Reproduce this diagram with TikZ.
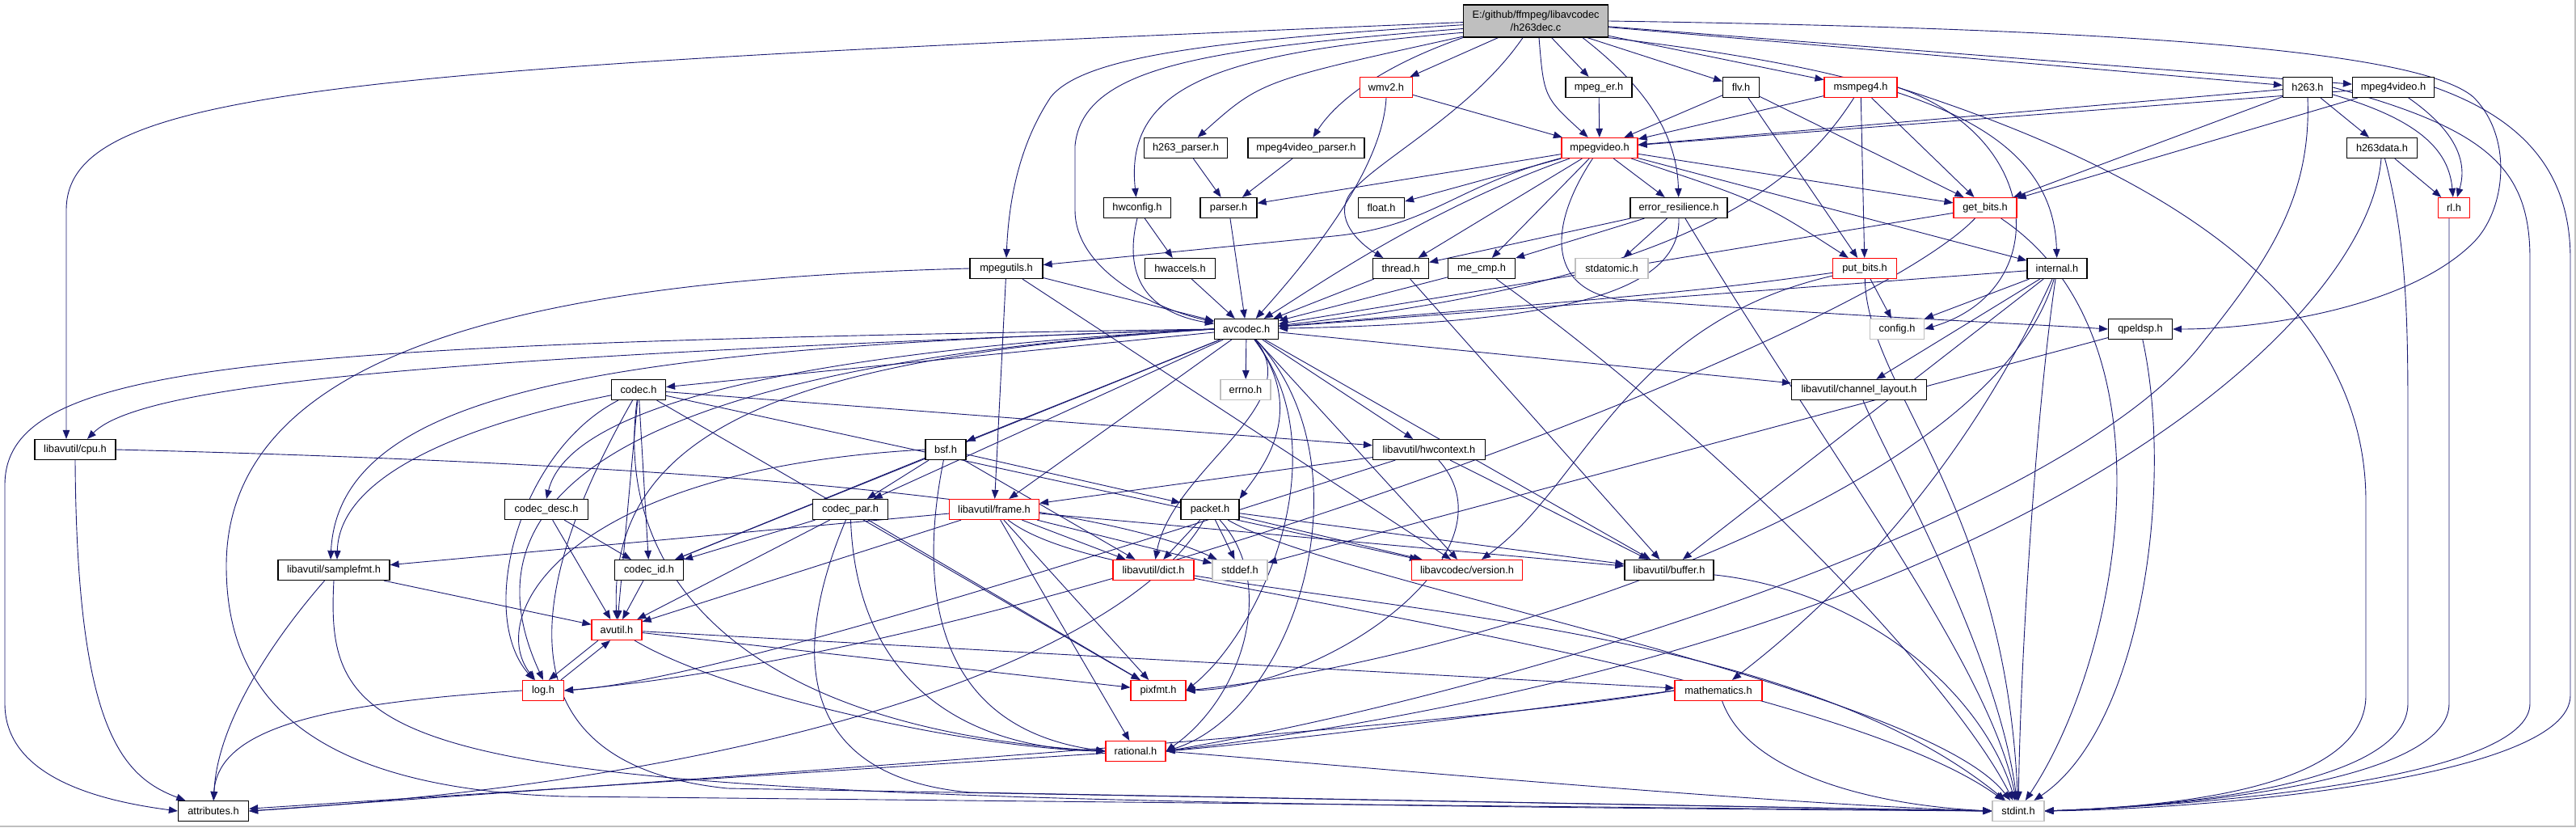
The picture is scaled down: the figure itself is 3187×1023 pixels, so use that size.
\documentclass[tikz,border=0pt]{standalone}
\usepackage{fontspec}
\setmainfont{Liberation Sans}
\usetikzlibrary{arrows.meta}
\definecolor{edgec}{HTML}{191970}
\definecolor{sysgray}{HTML}{BFBFBF}
\pgfdeclarelayer{bg}
\pgfsetlayers{bg,main}
\newcommand\dfont{\fontsize{12.8}{15.5}\selectfont}
\begin{document}
\begin{tikzpicture}[x=1pt,y=-1pt,
  box/.style={draw=black,line width=1.2pt,fill=white,minimum height=25pt,inner sep=0pt,font=\dfont},
  rbox/.style={box,draw=red},
  gbox/.style={box,draw=sysgray},
  lnk/.style={draw=edgec,line width=0.9pt,-{Triangle[length=11pt,width=8.5pt]}}]
\useasboundingbox (0,0) rectangle (3187,1023);

\node[box,fill=sysgray,minimum width=179pt,minimum height=40pt,align=center] (root) at (1900,26) {E:/github/ffmpeg/libavcodec\\/h263dec.c};
\node[rbox,minimum width=65pt] (wmv2) at (1715,108) {wmv2.h};
\node[box,minimum width=82pt] (mpeger) at (1978,108) {mpeg\_er.h};
\node[box,minimum width=45pt] (flv) at (2154,108) {flv.h};
\node[rbox,minimum width=90pt] (msmpeg4) at (2302,108) {msmpeg4.h};
\node[box,minimum width=61pt] (h263) at (2855,108) {h263.h};
\node[box,minimum width=101pt] (mpeg4video) at (2961,108) {mpeg4video.h};
\node[box,minimum width=103pt] (h263parser) at (1467,183) {h263\_parser.h};
\node[box,minimum width=144pt] (m4vparser) at (1616,183) {mpeg4video\_parser.h};
\node[rbox,minimum width=94pt] (mpegvideo) at (1979,183) {mpegvideo.h};
\node[box,minimum width=87pt] (h263data) at (2947,183) {h263data.h};
\node[box,minimum width=83pt] (hwconfig) at (1407,257) {hwconfig.h};
\node[box,minimum width=70pt] (parser) at (1520,257) {parser.h};
\node[box,minimum width=57pt] (float) at (1709,257) {float.h};
\node[box,minimum width=120pt] (errres) at (2077,257) {error\_resilience.h};
\node[rbox,minimum width=78pt] (getbits) at (2456,257) {get\_bits.h};
\node[rbox,minimum width=39pt] (rl) at (3036,257) {rl.h};
\node[box,minimum width=90pt] (mpegutils) at (1245,332) {mpegutils.h};
\node[box,minimum width=87pt] (hwaccels) at (1460,332) {hwaccels.h};
\node[box,minimum width=69pt] (thread) at (1733,332) {thread.h};
\node[box,minimum width=83pt] (mecmp) at (1833,332) {me\_cmp.h};
\node[gbox,minimum width=90pt] (stdatomic) at (1994,332) {stdatomic.h};
\node[rbox,minimum width=79pt] (putbits) at (2307,332) {put\_bits.h};
\node[box,minimum width=74pt] (internal) at (2545,332) {internal.h};
\node[box,minimum width=79pt] (avcodec) at (1542,407) {avcodec.h};
\node[gbox,minimum width=67pt] (config) at (2347,407) {config.h};
\node[box,minimum width=79pt] (qpeldsp) at (2648,407) {qpeldsp.h};
\node[box,minimum width=67pt] (codec) at (790,482) {codec.h};
\node[gbox,minimum width=62pt] (errno) at (1541,482) {errno.h};
\node[box,minimum width=167pt] (chlayout) at (2300,482) {libavutil/channel\_layout.h};
\node[box,minimum width=100pt] (cpu) at (93,556) {libavutil/cpu.h};
\node[box,minimum width=50pt] (bsf) at (1170,556) {bsf.h};
\node[box,minimum width=139pt] (hwcontext) at (1768,556) {libavutil/hwcontext.h};
\node[box,minimum width=103pt] (codecdesc) at (676,630) {codec\_desc.h};
\node[box,minimum width=93pt] (codecpar) at (1052,630) {codec\_par.h};
\node[rbox,minimum width=111pt] (frame) at (1230,630) {libavutil/frame.h};
\node[box,minimum width=72pt] (packet) at (1497,630) {packet.h};
\node[box,minimum width=138pt] (samplefmt) at (413,705) {libavutil/samplefmt.h};
\node[box,minimum width=85pt] (codecid) at (803,705) {codec\_id.h};
\node[rbox,minimum width=100pt] (dict) at (1427,705) {libavutil/dict.h};
\node[gbox,minimum width=68pt] (stddef) at (1534,705) {stddef.h};
\node[rbox,minimum width=137pt] (version) at (1815,705) {libavcodec/version.h};
\node[box,minimum width=110pt] (buffer) at (2065,705) {libavutil/buffer.h};
\node[rbox,minimum width=62pt] (avutil) at (763,779) {avutil.h};
\node[rbox,minimum width=51pt] (log) at (672,854) {log.h};
\node[rbox,minimum width=68pt] (pixfmt) at (1433,854) {pixfmt.h};
\node[rbox,minimum width=108pt] (mathematics) at (2126,854) {mathematics.h};
\node[rbox,minimum width=74pt] (rational) at (1405,929) {rational.h};
\node[box,minimum width=87pt] (attributes) at (264,1003) {attributes.h};
\node[gbox,minimum width=64pt] (stdint) at (2497,1003) {stdint.h};

\coordinate (rlv) at (3030,870);
\coordinate (h263v) at (3130,870);
\coordinate (m4vv) at (3180,860);
\coordinate (h263dv) at (2979,870);
\coordinate (msv) at (2927,860);

\begin{pgfonlayer}{bg}
\fill[white] (0,0) rectangle (3187,1023);
\draw[sysgray,line width=2pt] (0,1022) -- (3186,1022) -- (3186,0);
% root
\draw[lnk] (root.181) .. controls (420,85) and (82,110) .. (82,260) -- ([xshift=-11pt]cpu.north);
\draw[lnk] (root.183) .. controls (1500,50) and (1340,70) .. (1300,120) .. controls (1260,180) and (1248,250) .. (mpegutils.north);
\draw[lnk] (root.186) .. controls (1500,60) and (1340,80) .. (1330,180) -- (1330,260) .. controls (1330,330) and (1420,380) .. (avcodec);
\draw[lnk] (root.189) .. controls (1520,65) and (1390,100) .. (hwconfig);
\draw[lnk] (root.192) .. controls (1560,100) .. (h263parser);
\draw[lnk] (root.south west) .. controls (1700,85) and (1650,130) .. (m4vparser);
\draw[lnk] (root) -- (wmv2);
\draw[lnk] ([xshift=-16pt]root.south) .. controls (1820,140) and (1700,200) .. (1670,240) .. controls (1650,270) and (1680,300) .. (thread);
\draw[lnk] ([xshift=4pt]root.south) .. controls (1910,120) .. (mpegvideo);
\draw[lnk] (root) -- (mpeger);
\draw[lnk] ([xshift=58pt]root.south) .. controls (2040,110) and (2075,170) .. (errres);
\draw[lnk] (root) -- (flv);
\draw[lnk] (root) -- (msmpeg4);
\draw[lnk] (root.south east) .. controls (2350,90) and (2540,150) .. (internal);
\draw[lnk] (root) -- (h263);
\draw[lnk] (root) -- (mpeg4video);
\draw[lnk] (root.east) .. controls (2600,35) and (2990,60) .. (3060,120) .. controls (3110,170) and (3100,260) .. (3060,300) .. controls (2980,380) and (2800,407) .. (qpeldsp.east);
% wmv2, mpeg_er, flv, msmpeg4
\draw[lnk] (wmv2) -- (mpegvideo);
\draw[lnk] (wmv2.south) .. controls (1710,210) and (1620,320) .. (avcodec);
\draw[lnk] (mpeger) -- (mpegvideo);
\draw[lnk] (flv) -- (mpegvideo);
\draw[lnk] (flv) -- (getbits);
\draw[lnk] (flv) -- (putbits);
\draw[lnk] (msmpeg4) -- (mpegvideo);
\draw[lnk] (msmpeg4) -- (putbits);
\draw[lnk] (msmpeg4) -- (getbits);
\draw[lnk] (msmpeg4) .. controls (2230,220) and (2100,345) .. (avcodec);
\draw[lnk] (msmpeg4.east) .. controls (2530,170) and (2540,360) .. (config.east);
\draw[lnk] (msmpeg4.east) .. controls (2700,220) and (2927,380) .. (2927,620) -- (msv) .. controls (2927,960) and (2750,995) .. (stdint.east);
% h263, mpeg4video, h263data
\draw[lnk] (h263) -- (mpegvideo);
\draw[lnk] (h263) -- (getbits);
\draw[lnk] (h263) -- (h263data);
\draw[lnk] (h263) .. controls (3000,150) and (3030,190) .. (rl);
\draw[lnk] (h263.south) .. controls (2860,250) and (2800,330) .. (2720,430) .. controls (2550,640) and (1900,850) .. (rational.east);
\draw[lnk] (h263.east) .. controls (3080,160) and (3130,210) .. (3130,320) -- (h263v) .. controls (3130,960) and (2750,995) .. (stdint.east);
\draw[lnk] (mpeg4video) -- (mpegvideo);
\draw[lnk] (mpeg4video) -- (getbits);
\draw[lnk] (mpeg4video) .. controls (3050,170) and (3050,210) .. (rl);
\draw[lnk] (mpeg4video.east) .. controls (3130,150) and (3180,220) .. (3180,320) -- (m4vv) .. controls (3180,960) and (2750,1000) .. (stdint.east);
\draw[lnk] (h263data) -- (rl);
\draw[lnk] (h263data) .. controls (2978,300) and (2979,400) .. (2979,520) -- (h263dv) .. controls (2979,960) and (2750,995) .. (stdint.east);
\draw[lnk] (h263data) .. controls (2930,400) and (2500,800) .. (rational.east);
\draw[lnk] (rl.south -| rlv) -- (rlv) .. controls (3030,960) and (2750,995) .. (stdint.east);
% parsers
\draw[lnk] (h263parser) -- (parser);
\draw[lnk] (m4vparser) -- (parser);
% mpegvideo
\draw[lnk] (mpegvideo) -- (parser);
\draw[lnk] (mpegvideo) .. controls (1800,230) and (1770,280) .. (1650,292) -- (mpegutils);
\draw[lnk] (mpegvideo) -- (float);
\draw[lnk] (mpegvideo) -- (errres);
\draw[lnk] (mpegvideo) -- (thread);
\draw[lnk] (mpegvideo) -- (mecmp);
\draw[lnk] (mpegvideo) .. controls (1760,260) and (1620,360) .. (avcodec);
\draw[lnk] (mpegvideo) .. controls (1915,280) and (1915,355) .. (2000,370) .. controls (2300,392) and (2500,400) .. (qpeldsp.west);
\draw[lnk] (mpegvideo) .. controls (2180,250) .. (putbits);
\draw[lnk] (mpegvideo) -- (getbits);
\draw[lnk] (mpegvideo) -- (internal);
% error_resilience
\draw[lnk] (errres) -- (thread);
\draw[lnk] (errres) -- (mecmp);
\draw[lnk] (errres) -- (stdatomic);
\draw[lnk] (errres.south) .. controls (2080,370) and (1900,400) .. (avcodec);
\draw[lnk] (errres) .. controls (2260,560) and (2460,820) .. (stdint);
% thread, me_cmp
\draw[lnk] (thread) -- (avcodec);
\draw[lnk] (thread) -- (buffer);
\draw[lnk] (mecmp) -- (avcodec);
\draw[lnk] (mecmp) .. controls (2150,560) and (2420,850) .. (stdint);
% put_bits
\draw[lnk] (putbits) -- (config);
\draw[lnk] (putbits) .. controls (2100,360) .. (avcodec);
\draw[lnk] (putbits) .. controls (2010,400) and (1960,600) .. (version);
\draw[lnk] (putbits) .. controls (2310,480) and (2480,620) .. (stdint);
% get_bits
\draw[lnk] (getbits) -- (avcodec);
\draw[lnk] (getbits) .. controls (2300,420) and (1300,800) .. (log.east);
\draw[lnk] (getbits) .. controls (2700,420) and (2620,820) .. (stdint);
% internal
\draw[lnk] (internal) -- (avcodec);
\draw[lnk] (internal) -- (chlayout);
\draw[lnk] (internal) -- (buffer);
\draw[lnk] (internal) .. controls (2440,560) and (2300,720) .. (mathematics);
\draw[lnk] (internal) .. controls (2460,620) and (1800,820) .. (pixfmt.east);
\draw[lnk] (internal) -- (config);
\draw[lnk] (internal) .. controls (2520,500) and (2500,800) .. (stdint);
% qpeldsp
\draw[lnk] (qpeldsp) -- (stddef);
\draw[lnk] (qpeldsp) .. controls (2690,600) and (2650,900) .. (stdint);
% hwconfig etc
\draw[lnk] (hwconfig) -- (hwaccels);
\draw[lnk] (hwconfig.south) .. controls (1385,360) and (1440,390) .. (avcodec);
\draw[lnk] (hwaccels) -- (avcodec);
\draw[lnk] (parser) -- (avcodec);
\draw[lnk] (mpegutils) -- (avcodec);
\draw[lnk] (mpegutils) -- (frame);
\draw[lnk] (mpegutils) -- (version);
\draw[lnk] (mpegutils.west) .. controls (700,345) and (280,420) .. (280,700) .. controls (280,860) and (380,975) .. (700,985) -- (stdint.west);
% avcodec
\draw[lnk] (avcodec) -- (errno);
\draw[lnk] (avcodec.west) .. controls (600,440) and (180,470) .. ([xshift=15pt]cpu.north);
\draw[lnk] (avcodec.west) .. controls (300,425) and (6,450) .. (6,600) -- (6,870) .. controls (6,960) and (120,990) .. (attributes.west);
\draw[lnk] (avcodec) -- (codec);
\draw[lnk] (avcodec.west) .. controls (800,430) and (420,470) .. ([xshift=-4pt]samplefmt.north);
\draw[lnk] (avcodec.west) .. controls (1000,440) and (752,520) .. (avutil.north);
\draw[lnk] (avcodec) -- (buffer);
\draw[lnk] (avcodec) -- (chlayout);
\draw[lnk] (avcodec) .. controls (1620,500) and (1450,580) .. (dict);
\draw[lnk] (avcodec) -- (frame);
\draw[lnk] (avcodec) -- (hwcontext);
\draw[lnk] (avcodec.west) .. controls (800,450) and (560,600) .. (log.north);
\draw[lnk] (avcodec) .. controls (1660,560) and (1560,780) .. (pixfmt.east);
\draw[lnk] (avcodec) .. controls (1700,580) and (1600,880) .. (rational.east);
\draw[lnk] (avcodec) -- (bsf);
\draw[lnk] (avcodec.west) .. controls (900,440) and (700,520) .. (codecdesc.north);
\draw[lnk] (avcodec) -- (codecpar);
\draw[lnk] (avcodec) -- (codecid);
\draw[lnk] (avcodec) .. controls (1620,510) and (1560,580) .. (packet.north east);
\draw[lnk] (avcodec) -- (version);
% codec
\draw[lnk] (codec) -- (hwcontext);
\draw[lnk] (codec) .. controls (600,520) and (420,580) .. ([xshift=4pt]samplefmt.north);
\draw[lnk] (codec) -- (avutil);
\draw[lnk] (codec) .. controls (640,560) and (590,760) .. (log);
\draw[lnk] (codec) -- (codecid);
\draw[lnk] (codec) -- (pixfmt);
\draw[lnk] (codec) .. controls (760,700) and (900,900) .. (rational.west);
\draw[lnk] (codec) -- (version);
\draw[lnk] (codec) .. controls (700,640) and (560,940) .. (900,975) -- (stdint.west);
% bsf
\draw[lnk] (bsf) -- (codecpar);
\draw[lnk] (bsf) -- (codecid);
\draw[lnk] (bsf) -- (dict);
\draw[lnk] (bsf) -- (packet);
\draw[lnk] (bsf.west) .. controls (700,580) and (600,760) .. (log);
\draw[lnk] (bsf) .. controls (1137,720) and (1150,900) .. (rational.west);
% codec_desc, codec_par
\draw[lnk] (codecdesc) -- (avutil);
\draw[lnk] (codecdesc) -- (codecid);
\draw[lnk] (codecpar) -- (codecid);
\draw[lnk] (codecpar) -- (avutil);
\draw[lnk] (codecpar) -- (pixfmt);
\draw[lnk] (codecpar) .. controls (1060,850) and (1200,925) .. (rational.west);
\draw[lnk] (codecpar) .. controls (980,800) and (980,960) .. (1200,980) -- (stdint.west);
% frame
\draw[lnk] (frame) -- (samplefmt);
\draw[lnk] (frame) -- (avutil);
\draw[lnk] (frame) -- (rational);
\draw[lnk] (frame) -- (pixfmt);
\draw[lnk] (frame) -- (dict);
\draw[lnk] (frame) -- (stddef);
\draw[lnk] (frame) -- (buffer);
\draw[lnk] (frame) .. controls (1400,760) and (2150,720) .. (stdint);
% packet
\draw[lnk] (packet) -- (dict);
\draw[lnk] (packet) -- (stddef);
\draw[lnk] (packet) -- (version);
\draw[lnk] (packet) -- (buffer);
\draw[lnk] (packet) .. controls (1580,720) and (1540,860) .. (rational.east);
\draw[lnk] (packet) .. controls (1400,800) and (1000,960) .. (attributes.east);
\draw[lnk] (packet) .. controls (1650,720) and (2380,850) .. (stdint);
% samplefmt, codec_id, dict, buffer
\draw[lnk] (samplefmt) .. controls (330,800) and (268,900) .. (attributes);
\draw[lnk] (samplefmt) -- (avutil);
\draw[lnk] (samplefmt.south) .. controls (400,960) and (500,990) .. (stdint.west);
\draw[lnk] (codecid) -- (avutil);
\draw[lnk] (dict) .. controls (1700,760) and (2300,860) .. (stdint);
\draw[lnk] (buffer) .. controls (2300,730) and (2450,850) .. (stdint);
% avutil, log
\draw[lnk] ([xshift=-23pt]avutil.south) -- ([xshift=7pt]log.north);
\draw[lnk] ([xshift=22pt]log.north) -- ([xshift=-8pt]avutil.south);
\draw[lnk] (avutil) -- (mathematics);
\draw[lnk] (avutil) .. controls (900,860) and (1200,925) .. (rational.west);
\draw[lnk] (avutil) -- (pixfmt);
\draw[lnk] (log.west) .. controls (400,870) and (270,900) .. (attributes.north);
% mathematics, rational
\draw[lnk] (mathematics.west) .. controls (1800,890) and (1550,920) .. (rational.east);
\draw[lnk] (mathematics.west) .. controls (1800,900) and (900,960) .. (attributes.east);
\draw[lnk] (mathematics) .. controls (2160,950) and (2300,995) .. (stdint.west);
\draw[lnk] (rational) -- (attributes);
\draw[lnk] (rational.east) .. controls (1700,950) and (2200,995) .. (stdint.west);
% misc
\draw[lnk] (chlayout) .. controls (2330,560) and (2470,800) .. (stdint);
\draw[lnk] (cpu.south) .. controls (95,900) and (150,960) .. (attributes);
\draw[lnk] (cpu.east) .. controls (900,575) and (1350,620) .. (stddef);
\draw[lnk] (hwcontext) -- (frame);
\draw[lnk] (hwcontext) -- (buffer);
\draw[lnk] (hwcontext) .. controls (1500,640) and (900,840) .. (log.east);
\draw[lnk] (hwcontext) .. controls (1880,680) and (1650,850) .. (pixfmt.east);
\end{pgfonlayer}
\end{tikzpicture}
\end{document}
